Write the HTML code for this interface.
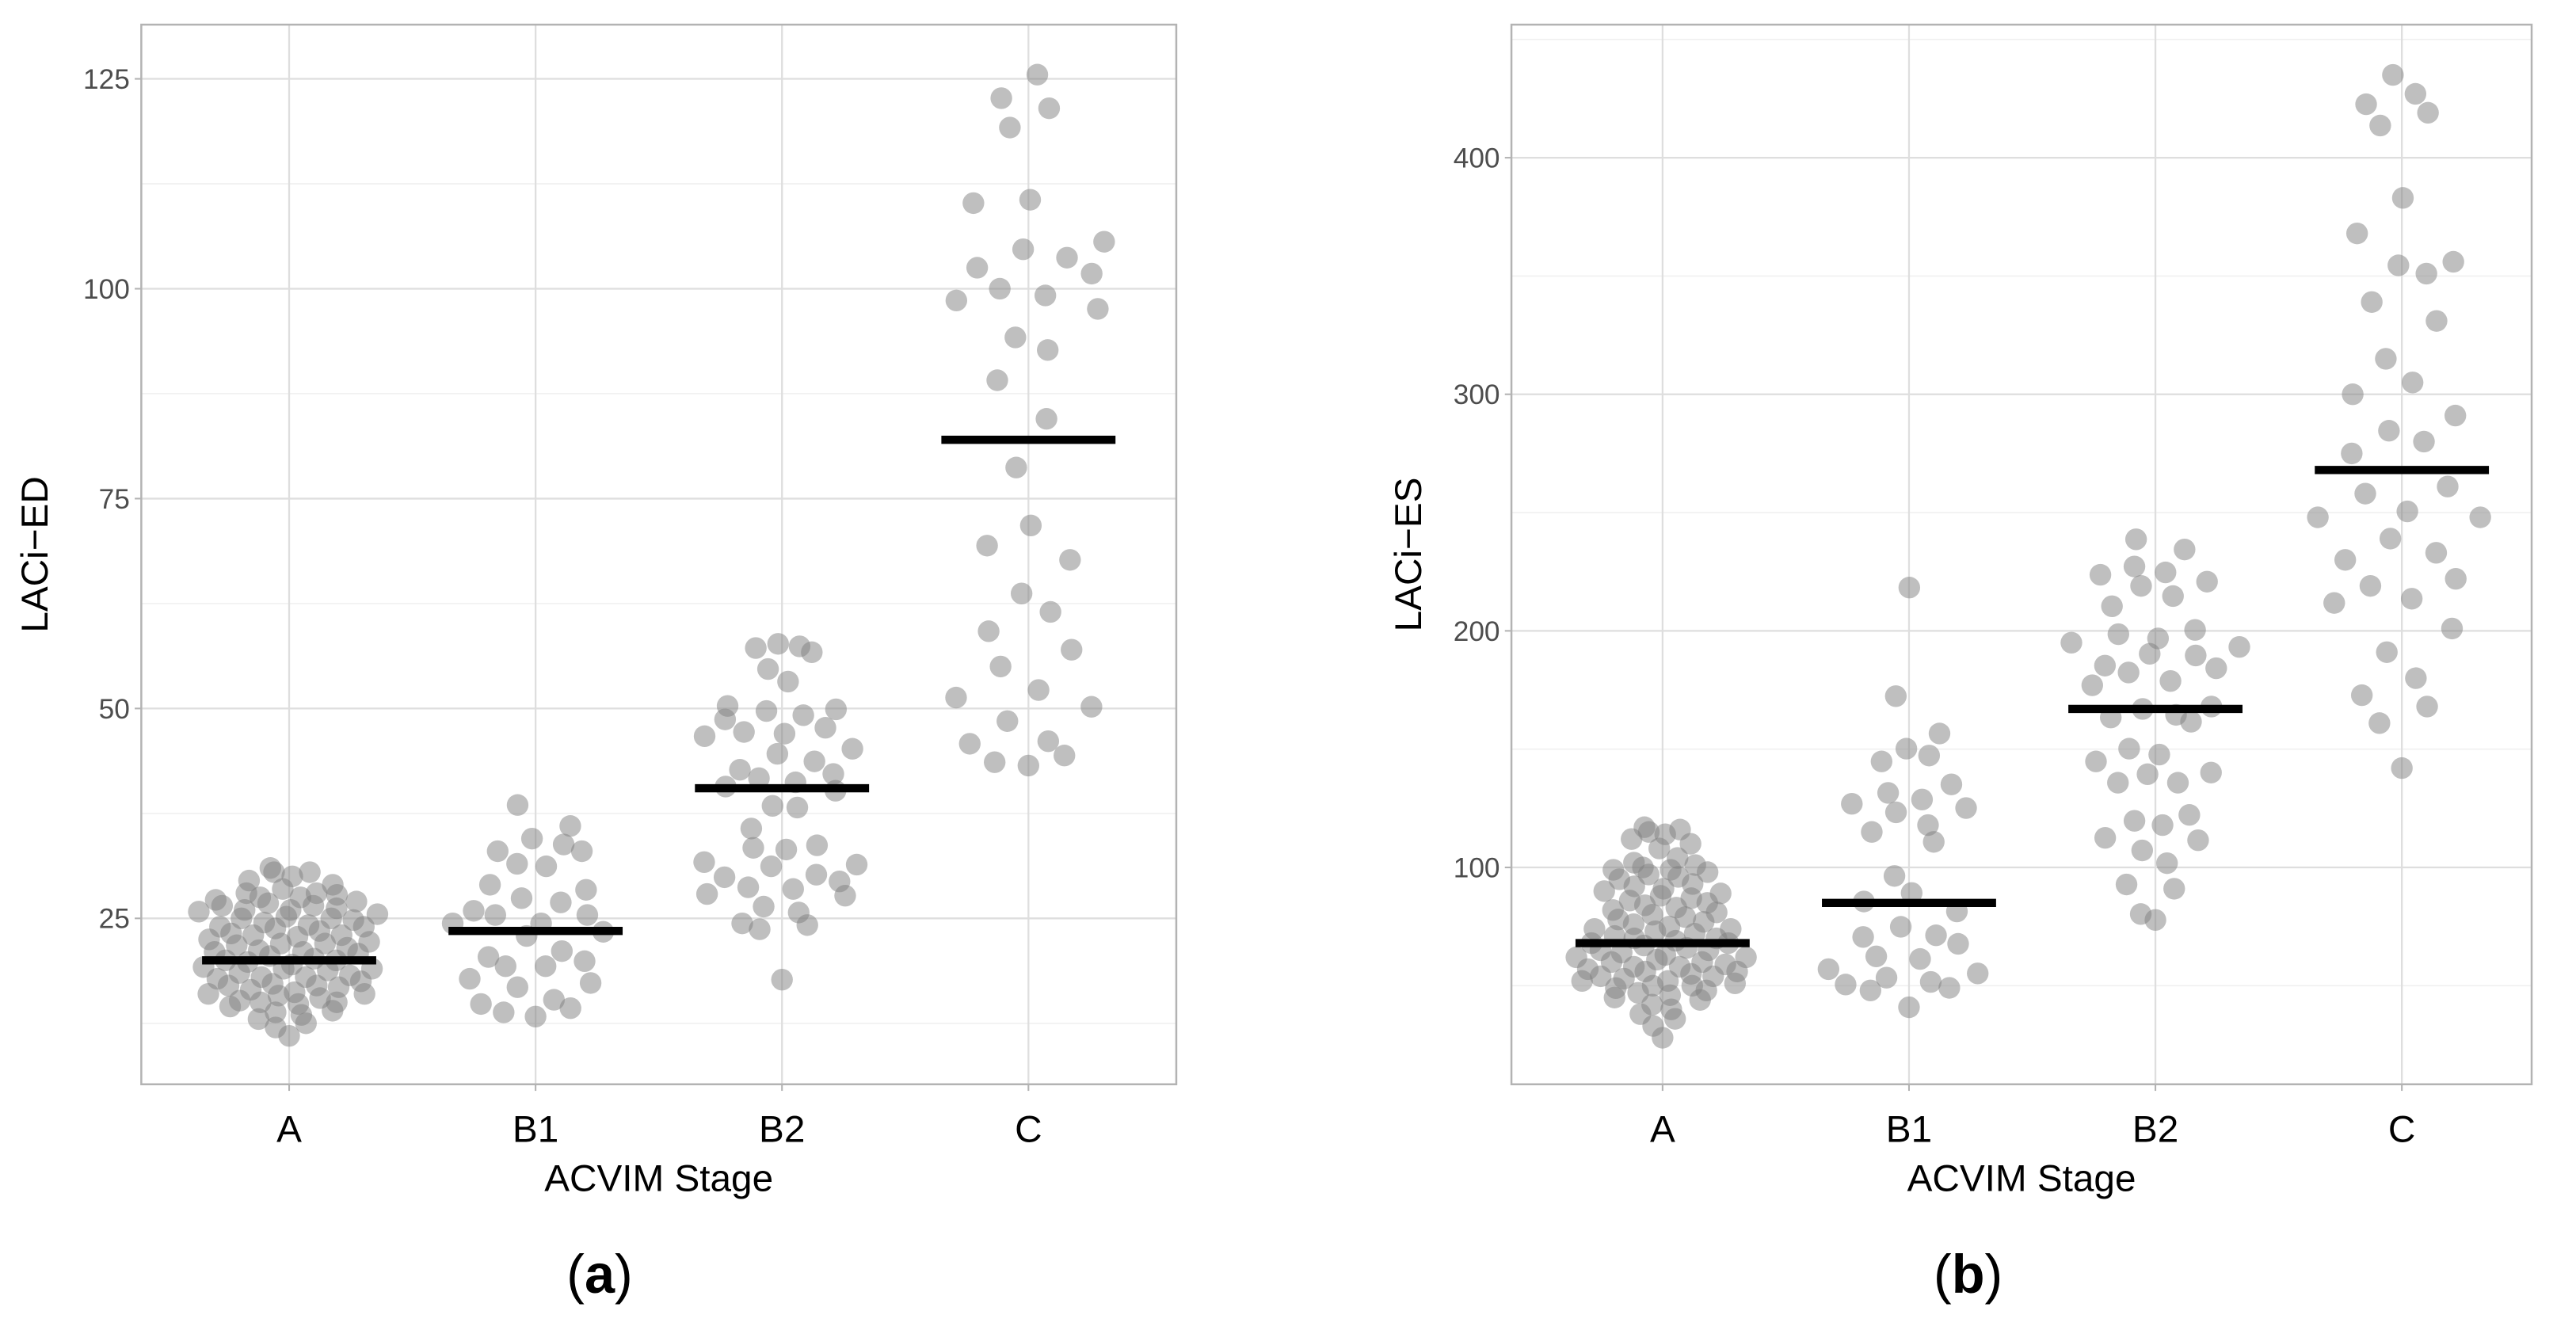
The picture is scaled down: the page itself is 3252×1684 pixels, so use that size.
<!DOCTYPE html>
<html><head><meta charset="utf-8">
<style>
html,body{margin:0;padding:0;background:#fff;}
svg{display:block;}
text{font-family:"Liberation Sans",sans-serif;}
</style></head>
<body>
<svg id="fig" width="3252" height="1684" viewBox="0 0 1568 812" preserveAspectRatio="none" xmlns="http://www.w3.org/2000/svg">
<rect x="0" y="0" width="1568" height="812" fill="#fff"/>
<text x="365" y="787" font-family="Liberation Serif, serif" font-size="33" text-anchor="middle">(<tspan font-weight="bold">a</tspan>)</text>
<text x="1198" y="787" font-family="Liberation Serif, serif" font-size="33" text-anchor="middle">(<tspan font-weight="bold">b</tspan>)</text>
</svg>
<script>
const categories = ["A","B1","B2","C"];
const edA = [31,30.5,30.5,30,29.5,29,28.5,28,28,27.8,27.5,27.5,27.2,27,26.8,26.5,26.5,26.2,26,26,25.8,25.5,25.2,25,25,24.8,24.5,24.2,24,24,23.8,23.5,23.2,23,23,22.8,22.5,22.2,22,22,21.8,21.5,21.2,21,21,20.8,20.5,20.2,20,20,19.8,19.5,19.2,19,19,18.8,18.5,18.2,18,18,17.8,17.5,17.2,17,17,16.8,16.5,16.2,16,16,15.8,15.5,15.2,15,15,14.8,14.5,14,13.8,13.5,13,12.5,12,11];
const edB1 = [38.5,36,34.5,33.8,33,33,31.5,31.2,29,28.4,27.4,26.9,25.9,25.4,25.4,24.4,24.4,23.4,22.9,21.1,20.4,19.9,19.3,19.3,17.8,17.3,16.8,15.3,14.8,14.3,13.8,13.3];
const edB2 = [57.7,57.4,57.2,56.7,54.7,53.2,50.3,49.9,49.7,49.2,48.7,47.7,47.2,47,46.7,45.2,44.6,43.7,42.7,42.2,41.7,41.2,40.7,40.2,38.4,38.2,35.7,33.7,33.4,33.2,31.7,31.4,31.2,30.2,29.9,29.4,28.7,28.5,27.9,27.7,26.4,25.7,24.4,24.2,23.7,17.7];
const edC = [125.5,122.7,121.5,119.2,110.6,110.2,105.6,104.7,103.7,102.5,101.8,100,99.2,98.6,97.6,94.2,92.7,89.1,84.5,78.7,71.8,69.4,67.7,63.7,61.5,59.2,57,55,52.2,51.3,50.2,48.5,46.1,45.8,44.4,43.6,43.2];
const edMeans = [20,23.5,40.5,82];
const edTicks = [25,50,75,100,125];
const edMinor = [12.5,37.5,62.5,87.5,112.5];

const esA = [117,116,115,114,112,110,108,104,102,101,100,99,99,98,97,96,95,93,92,91,90,89,88,87,86,85,84,83,82,81,80,79,78,77,76,75,74,74,73,72,71,70,70,69,68,68,67,66,65,65,64,63,62,62,61,60,60,59,58,58,57,56,56,55,54,54,53,52,52,51,50,50,49,48,47,46,45,44,42,40,38,36,33,28];
const esB1 = [218.3,172.4,156.6,150.2,147.3,144.8,135.1,131.5,128.7,126.9,125.1,123.3,117.9,115,110.8,96.4,89.2,85.6,81.4,74.9,71.3,70.6,67.7,62.4,61.3,57,55.2,53.4,51.6,50.5,49.1,48,40.9];
const esB2 = [238.7,234.4,227.2,224.7,223.7,220.8,219,214.7,210.4,200.4,198.6,196.8,195,193.2,190.3,189.6,185.3,184.2,182.4,178.8,177,168,167,164.5,163.4,161.6,150.2,147.7,144.8,140.1,139.4,135.8,135.8,122.2,119.7,117.9,112.5,111.5,107.2,101.8,92.8,91,80.3,77.8];
const esC = [435,427,422.6,419,413.6,383,368,356,354.5,351,339,331,315,305,300,291,284.6,280,275,261,258,250.5,248,248,239,233,230,222,219,213.6,211.8,201,191,180,172.8,168,161,142];
const esMeans = [68,85,167,268];
const esTicks = [100,200,300,400];
const esMinor = [50,150,250,350,450];

const NS = "http://www.w3.org/2000/svg";
const svg = document.getElementById("fig");
function mk(tag, attrs, parent){
  const e = document.createElementNS(NS, tag);
  for (const k in attrs) e.setAttribute(k, attrs[k]);
  (parent||svg).appendChild(e);
  return e;
}
function vdc(n){ let v=0, denom=1; n=n+1; while(n>0){ denom*=2; v += (n%2)/denom; n=Math.floor(n/2);} return v; }

// quasirandom layout (like ggbeeswarm::geom_quasirandom)
function quasi(vals, yScale, cx, width){
  const n = vals.length;
  const mean = vals.reduce((a,b)=>a+b,0)/n;
  const sd = Math.sqrt(vals.reduce((a,b)=>a+(b-mean)*(b-mean),0)/(n-1));
  const bw = 0.5*0.9*sd*Math.pow(n,-0.2);
  const dens = v => vals.reduce((s,u)=>s+Math.exp(-0.5*((v-u)/bw)**2),0);
  const ds = vals.map(dens);
  const maxd = Math.max(...ds);
  const order = vals.map((v,i)=>i).sort((a,b)=>vals[a]-vals[b]);
  const out = [];
  order.forEach((idx,rank)=>{
    const off = (vdc(rank)-0.5)*2*width*ds[idx]/maxd;
    out.push({x:cx+off, y:yScale(vals[idx])});
  });
  return out;
}

function panel(cfg){
  const g = mk("g",{});
  
  
  const {x0,x1,y0,y1} = cfg;
  const y = cfg.y;
  const x = i => cfg.xA + i*150;
  cfg.minor.forEach(v=>{
    const yy=y(v); if (yy<y0||yy>y1) return;
    const l = mk("line",{x1:x0,x2:x1,y1:yy,y2:yy,stroke:"#f0f0f0","stroke-width":0.8},g);
    
    
  });
  cfg.ticks.forEach(v=>{
    const yy=y(v);
    const l = mk("line",{x1:x0,x2:x1,y1:yy,y2:yy,stroke:"#dedede","stroke-width":1.1},g);
    
    
    const t = mk("line",{x1:x0-4,x2:x0,y1:yy,y2:yy,stroke:"#b3b3b3","stroke-width":1},g);
    
    
    const tx = mk("text",{x:x0-7,y:yy+6,"font-size":17,fill:"#4d4d4d","text-anchor":"end"},g);
    tx.textContent = v;
    
    
  });
  categories.forEach((c,i)=>{
    const l = mk("line",{x1:x(i),x2:x(i),y1:y0,y2:y1,stroke:"#dedede","stroke-width":1.1},g);
    
    
    const t = mk("line",{x1:x(i),x2:x(i),y1:y1,y2:y1+4,stroke:"#b3b3b3","stroke-width":1},g);
    
    
    const tx = mk("text",{x:x(i),y:y1+35,"font-size":23,fill:"#000","text-anchor":"middle"},g);
    tx.textContent = c;
    
    
  });
  cfg.series.forEach((vals,i)=>{
    quasi(vals, y, x(i), 56).forEach(p=>{
      const c = mk("circle",{cx:p.x,cy:p.y,r:6.6,fill:"#808080","fill-opacity":0.5},g);
      
      
    });
  });
  cfg.means.forEach((m,i)=>{
    const l = mk("line",{x1:x(i)-53,x2:x(i)+53,y1:y(m),y2:y(m),stroke:"#000","stroke-width":5},g);
    
    
  });
  const b = mk("rect",{x:x0,y:y0,width:x1-x0,height:y1-y0,fill:"none",stroke:"#b3b3b3","stroke-width":1.2},g);
  
  
  const xt = mk("text",{x:(x0+x1)/2,y:y1+65,"font-size":23,fill:"#000","text-anchor":"middle"},g);
  xt.textContent = "ACVIM Stage";
  
  
  const yt = mk("text",{x:0,y:0,"font-size":23,fill:"#000","text-anchor":"middle",transform:"translate("+cfg.ytx+","+(y0+y1)/2+") rotate(-90)"},g);
  yt.textContent = cfg.ytitle;
  
  
}

panel({name:"panel-a-lacied", x0:86,x1:716,y0:15,y1:660, xA:176,
  y: v => 559 - (v-25)*5.11, ticks:edTicks, minor:edMinor,
  series:[edA,edB1,edB2,edC], means:edMeans, ytitle:"LACi\u2212ED", ytx:29});
panel({name:"panel-b-laci-es", x0:920,x1:1541,y0:15,y1:660, xA:1012,
  y: v => 528 - (v-100)*1.44, ticks:esTicks, minor:esMinor,
  series:[esA,esB1,esB2,esC], means:esMeans, ytitle:"LACi\u2212ES", ytx:865});
</script>
</body></html>
